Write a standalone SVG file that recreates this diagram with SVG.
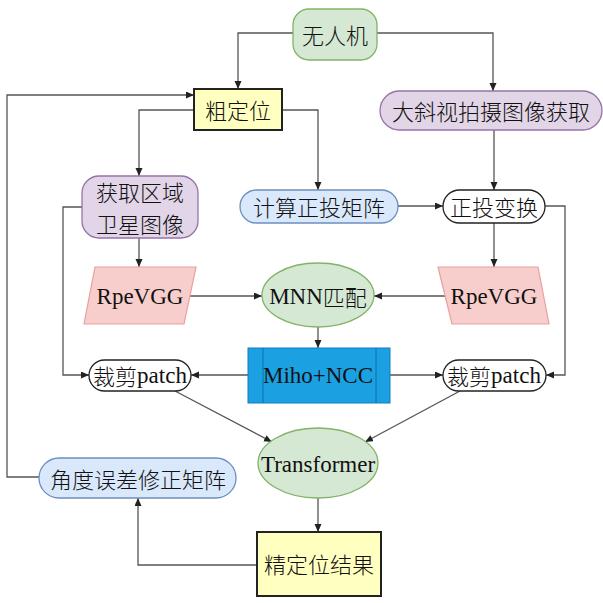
<svg xmlns="http://www.w3.org/2000/svg" width="603" height="603" viewBox="0 0 603 603">
<style>
text{font-family:"Liberation Serif","Noto Sans CJK SC",serif;font-size:23px;fill:#111;text-anchor:middle;dominant-baseline:central}
.cn{font-family:"Noto Sans CJK SC","Liberation Serif",sans-serif;font-size:22px;font-weight:300}
.e{stroke:#555;stroke-width:1.3;fill:none;marker-end:url(#ah)}
.green{fill:#d5e8d4;stroke:#82b366;stroke-width:1.3}
.purple{fill:#e1d5e7;stroke:#9673a6;stroke-width:1.3}
.blue{fill:#dae8fc;stroke:#6c8ebf;stroke-width:1.3}
.white{fill:#fff;stroke:#222;stroke-width:1.3}
.yellow{fill:#ffffc0;stroke:#222;stroke-width:2}
.pink{fill:#f8cecc;stroke:#e8a09c;stroke-width:1.2}
</style>
<defs>
<marker id="ah" markerUnits="userSpaceOnUse" markerWidth="9" markerHeight="8" refX="8" refY="3.5" orient="auto">
<path d="M0,0 L8,3.5 L0,7 z" fill="#222"/>
</marker>
</defs>
<rect width="603" height="603" fill="#fff"/>
<g id="connectors">
<path class="e" d="M293,33 H238 V89"/>
<path class="e" d="M377,33 H493 V91"/>
<path class="e" d="M39,477 H7 V95 H194"/>
<path class="e" d="M194,110 H139 V176"/>
<path class="e" d="M282,110 H318 V190"/>
<path class="e" d="M494,130 V190"/>
<path class="e" d="M398,206 H443"/>
<path class="e" d="M139,238 V267"/>
<path class="e" d="M494,223 V267"/>
<path class="e" d="M82,207 H63 V375 H89"/>
<path class="e" d="M545,206 H565 V375 H546"/>
<path class="e" d="M190,296 H262"/>
<path class="e" d="M445,296 H374"/>
<path class="e" d="M318,327 V348"/>
<path class="e" d="M248,375 H191"/>
<path class="e" d="M390,375 H443"/>
<path class="e" d="M175,391 L272,442"/>
<path class="e" d="M460,391 L365,442"/>
<path class="e" d="M318,498 V532"/>
<path class="e" d="M257,565 H138 V498"/>
</g>
<g id="n-uav">
<rect class="green" x="293" y="9" width="84" height="51" rx="16"/>
<text class="cn" x="335" y="34">无人机</text>
</g>
<g id="n-coarse">
<rect class="yellow" x="194" y="89" width="88" height="41"/>
<text class="cn" x="238" y="109">粗定位</text>
</g>
<g id="n-oblique">
<rect class="purple" x="380" y="91" width="222" height="39" rx="19.5"/>
<text class="cn" x="491" y="110">大斜视拍摄图像获取</text>
</g>
<g id="n-sat">
<rect class="purple" x="82" y="176" width="116" height="62" rx="17"/>
<text class="cn" x="140" y="191">获取区域</text>
<text class="cn" x="140" y="223">卫星图像</text>
</g>
<g id="n-calc">
<rect class="blue" x="240" y="190" width="158" height="33" rx="16.5"/>
<text class="cn" x="319" y="206">计算正投矩阵</text>
</g>
<g id="n-ortho">
<rect class="white" x="443" y="190" width="102" height="33" rx="16.5"/>
<text class="cn" x="494" y="206">正投变换</text>
</g>
<g id="n-vggL">
<polygon class="pink" points="95,267 196,267 184,324 84,324"/>
<text x="140" y="296">RpeVGG</text>
</g>
<g id="n-mnn">
<ellipse class="green" cx="318" cy="295" rx="56" ry="32"/>
<text x="318" y="296">MNN<tspan class="cn">匹配</tspan></text>
</g>
<g id="n-vggR">
<polygon class="pink" points="438,267 538,267 549,324 452,324"/>
<text x="494" y="296">RpeVGG</text>
</g>
<g id="n-miho">
<rect x="248" y="348" width="142" height="55" fill="#1ba1e2" stroke="#0f7fc0" stroke-width="1"/>
<line x1="263" y1="348" x2="263" y2="403" stroke="#0f6fb0" stroke-width="1"/>
<line x1="376" y1="348" x2="376" y2="403" stroke="#0f6fb0" stroke-width="1"/>
<text x="318" y="375">Miho+NCC</text>
</g>
<g id="n-patchL">
<rect class="white" x="89" y="360" width="102" height="31" rx="15.5"/>
<text x="140" y="375"><tspan class="cn">裁剪</tspan>patch</text>
</g>
<g id="n-patchR">
<rect class="white" x="443" y="360" width="103" height="31" rx="15.5"/>
<text x="494" y="375"><tspan class="cn">裁剪</tspan>patch</text>
</g>
<g id="n-transformer">
<ellipse class="green" cx="318" cy="463" rx="60" ry="35"/>
<text x="318" y="464">Transformer</text>
</g>
<g id="n-angle">
<rect class="blue" x="39" y="458" width="197" height="40" rx="20"/>
<text class="cn" x="138" y="478">角度误差修正矩阵</text>
</g>
<g id="n-fine">
<rect class="yellow" x="257" y="532" width="124" height="64"/>
<text class="cn" x="319" y="563">精定位结果</text>
</g>
</svg>
